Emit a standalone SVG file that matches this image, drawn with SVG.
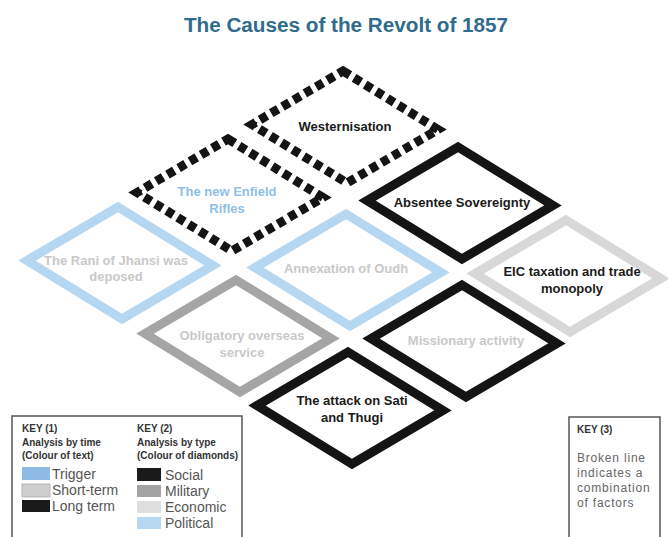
<svg xmlns="http://www.w3.org/2000/svg" xmlns:xlink="http://www.w3.org/1999/xlink" width="668" height="537" viewBox="0 0 668 537">
<defs>
<path id="dia" d="M -2 -56 L 93 2.5 L 2 56 L -93 -2.5 Z"/>
<style>
.d{fill:#fff;stroke-width:9;stroke-linejoin:miter}
.social{stroke:#141414}
.military{stroke:#a5a5a5}
.economic{stroke:#d8d8d8}
.political{stroke:#b5d7f2}
.broken{stroke:#141414;stroke-dasharray:8 5}
.t{font-family:"Liberation Sans",Arial,sans-serif;font-weight:bold;font-size:13px;text-anchor:middle}
.long{fill:#1a1a1a}
.short{fill:#c9c9c9}
.trig{fill:#8fbfe6}
.k{font-family:"Liberation Sans",Arial,sans-serif;font-size:10px;font-weight:bold;fill:#333}
.kl{font-family:"Liberation Sans",Arial,sans-serif;font-size:14px;fill:#555}
.k3{font-family:"Liberation Sans",Arial,sans-serif;font-size:12px;letter-spacing:0.8px;fill:#666}
.box{fill:#fff;stroke:#555;stroke-width:1.5}
</style>
</defs>
<rect width="668" height="537" fill="#fff"/>
<text x="346" y="32" font-family="Liberation Sans,Arial,sans-serif" font-weight="bold" font-size="20.7" fill="#2f6b8c" text-anchor="middle">The Causes of the Revolt of 1857</text>
<g id="connectors"/>
<g id="westernisation">
<use xlink:href="#dia" x="345" y="127" class="d broken"/>
<text class="t long" x="345" y="131">Westernisation</text>
</g>
<g id="enfield">
<use xlink:href="#dia" x="230" y="195" class="d broken"/>
<text class="t trig" x="227" y="196">The new Enfield</text>
<text class="t trig" x="227" y="213">Rifles</text>
</g>
<g id="absentee">
<use xlink:href="#dia" x="460" y="203" class="d social"/>
<text class="t long" x="462" y="207">Absentee Sovereignty</text>
</g>
<g id="rani">
<use xlink:href="#dia" x="120" y="263" class="d political"/>
<text class="t short" x="116" y="265">The Rani of Jhansi was</text>
<text class="t short" x="116" y="281">deposed</text>
</g>
<g id="annexation">
<use xlink:href="#dia" x="348" y="270" class="d political"/>
<text class="t short" x="346" y="273">Annexation of Oudh</text>
</g>
<g id="eic">
<use xlink:href="#dia" x="568" y="276" class="d economic"/>
<text class="t long" x="572" y="276">EIC taxation and trade</text>
<text class="t long" x="572" y="293">monopoly</text>
</g>
<g id="obligatory">
<use xlink:href="#dia" x="238" y="336" class="d military"/>
<text class="t short" x="242" y="340">Obligatory overseas</text>
<text class="t short" x="242" y="357">service</text>
</g>
<g id="missionary">
<use xlink:href="#dia" x="464" y="341" class="d social"/>
<text class="t short" x="466" y="345">Missionary activity</text>
</g>
<g id="sati">
<use xlink:href="#dia" x="350" y="408" class="d social"/>
<text class="t long" x="352" y="405">The attack on Sati</text>
<text class="t long" x="352" y="422">and Thugi</text>
</g>
<g id="key12">
<rect class="box" x="12" y="416" width="230" height="130"/>
<text class="k" x="22" y="432">KEY (1)</text>
<text class="k" x="22" y="446">Analysis by time</text>
<text class="k" x="22" y="459">(Colour of text)</text>
<rect x="22" y="467" width="28" height="13" fill="#8dbbe4"/>
<text class="kl" x="52" y="479">Trigger</text>
<rect x="22" y="484" width="28" height="13" fill="#cfcfcf" stroke="#aaa" stroke-width="0.8"/>
<text class="kl" x="52" y="495">Short-term</text>
<rect x="22" y="500" width="28" height="12" fill="#1a1a1a"/>
<text class="kl" x="52" y="511">Long term</text>
<text class="k" x="137" y="432">KEY (2)</text>
<text class="k" x="137" y="446">Analysis by type</text>
<text class="k" x="137" y="459">(Colour of diamonds)</text>
<rect x="137" y="468" width="24" height="13" fill="#1a1a1a"/>
<text class="kl" x="165" y="480">Social</text>
<rect x="137" y="485" width="24" height="12" fill="#a3a3a3"/>
<text class="kl" x="165" y="496">Military</text>
<rect x="137" y="501" width="24" height="12" fill="#dedede"/>
<text class="kl" x="165" y="512">Economic</text>
<rect x="137" y="517" width="24" height="12" fill="#b8d8f2"/>
<text class="kl" x="165" y="528">Political</text>
</g>
<g id="key3">
<rect class="box" x="569" y="417" width="91" height="130"/>
<text class="k" x="577" y="433">KEY (3)</text>
<text class="k3" x="577" y="462">Broken line</text>
<text class="k3" x="577" y="477">indicates a</text>
<text class="k3" x="577" y="492">combination</text>
<text class="k3" x="577" y="507">of factors</text>
</g>
</svg>
